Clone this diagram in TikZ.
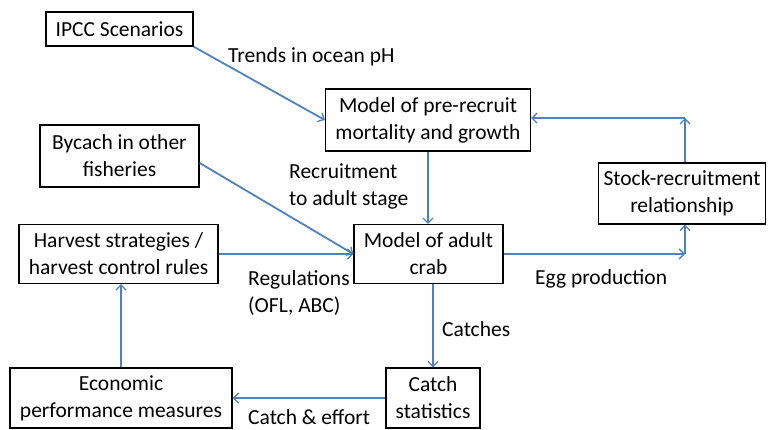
\documentclass[tikz,border=0pt]{standalone}
\usepackage{fontspec}
\setmainfont{Carlito}
\usetikzlibrary{arrows.meta,calc}
\definecolor{lineblue}{RGB}{79,129,189}
\tikzset{
  box/.style={draw=black,line width=1.3pt,rectangle,inner sep=0pt,align=center,font=\fontsize{21.5}{27}\selectfont},
  lbl/.style={inner sep=0pt,anchor=west,align=left,font=\fontsize{21.5}{27}\selectfont},
  arr/.style={draw=lineblue,line width=1.8pt,-{Straight Barb[length=5pt,width=10pt,line width=1.3pt]}}
}
\begin{document}
\begin{tikzpicture}[x=1pt,y=-1pt]
\useasboundingbox (0,0) rectangle (768,429);
\node[box,minimum width=147pt,minimum height=34pt] (ipcc) at (119.5,29) {IPCC Scenarios};
\node[box,minimum width=159pt,minimum height=62pt] (bycach) at (119.5,156) {Bycach in other\\fisheries};
\node[box,minimum width=205pt,minimum height=62pt] (pre) at (428,120) {Model of pre-recruit\\mortality and growth};
\node[box,minimum width=167pt,minimum height=61pt] (stock) at (682,193.5) {Stock-recruitment\\relationship};
\node[box,minimum width=149pt,minimum height=59pt] (adult) at (428.5,254) {Model of adult\\crab};
\node[box,minimum width=199pt,minimum height=59pt] (harvest) at (118.5,254) {Harvest strategies /\\harvest control rules};
\node[box,minimum width=222pt,minimum height=60pt] (econ) at (121,398) {Economic\\performance measures};
\node[box,minimum width=94pt,minimum height=60pt] (catch) at (433,398) {Catch\\statistics};

\coordinate (c1) at (685,254);
\coordinate (c2) at (685,118);

\draw[arr] (ipcc.south east) -- (pre.west);
\draw[arr] ([yshift=-7pt]bycach.east) -- (adult.west);
\draw[arr] (harvest.east) -- (adult.west);
\draw[arr] (pre.south) -- (pre.south |- adult.north);
\draw[arr] (adult.east) -- (c1);
\draw[arr] (c1) -- (c1 |- stock.south);
\draw[arr] (c1 |- stock.north) -- (c2);
\draw[arr] (c2) -- (c2 -| pre.east);
\draw[arr] (adult.south -| catch.north) -- (catch.north);
\draw[arr] (catch.west) -- (econ.east);
\draw[arr] (econ.north) -- (econ.north |- harvest.south);

\node[lbl] (l1) at (228,57) {Trends in ocean pH};
\node[lbl] (l2) at (289,186.5) {Recruitment\\to adult stage};
\node[lbl] (l3) at (248,293.5) {Regulations\\(OFL, ABC)};
\node[lbl] (l4) at (442,329) {Catches};
\node[lbl] (l5) at (535,279) {Egg production};
\node[lbl] (l6) at (248,417) {Catch \& effort};
\end{tikzpicture}
\end{document}
